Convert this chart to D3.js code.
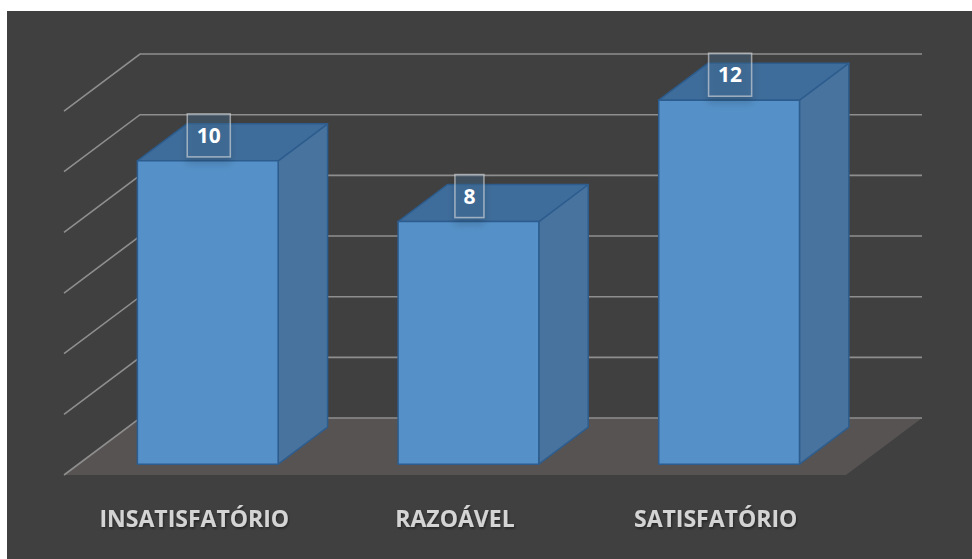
<!DOCTYPE html>
<html>
<head>
<meta charset="utf-8">
<script src="https://cdn.jsdelivr.net/npm/d3@7/dist/d3.min.js"></script>
<style>
html,body{margin:0;padding:0;background:#ffffff;}
svg{display:block;}
</style>
</head>
<body>
<svg id="chart" width="972" height="559"></svg>
<script>
// ---- data ----
const categories = ["INSATISFATÓRIO", "RAZOÁVEL", "SATISFATÓRIO"];
const values = [10, 8, 12];
const gridTicks = [0, 2, 4, 6, 8, 10, 12];

// ---- layout ----
const W = 972, H = 559;
const svg = d3.select("#chart");
const depthDX = 76, depthDY = 57;           // oblique depth offset of the whole floor
const zFront = 0.19, zBack = 0.84;           // bar depth range (0 = front, 1 = back wall)

const x = d3.scaleBand().domain(categories).range([64, 846]).paddingInner(0.46).paddingOuter(0.23);
const y = d3.scaleLinear().domain([0, 12]).range([475, 475 - 12 * 30.33]);

const P = (px, v, z) => [px + z * depthDX, y(v) - z * depthDY];
const poly = pts => "M" + pts.map(p => p.join(",")).join("L") + "Z";

// panel
svg.append("rect").attr("x", 7).attr("y", 11).attr("width", W - 7).attr("height", H - 11).attr("fill", "#404040");

const defs = svg.append("defs");
const f = defs.append("filter").attr("id", "shadow").attr("x", "-50%").attr("y", "-50%").attr("width", "200%").attr("height", "200%");
f.append("feGaussianBlur").attr("in", "SourceAlpha").attr("stdDeviation", 4).attr("result", "b");
f.append("feOffset").attr("in", "b").attr("dy", 6).attr("result", "o");
f.append("feComponentTransfer").attr("in", "o").attr("result", "s")
  .append("feFuncA").attr("type", "linear").attr("slope", 0.35);
const m = f.append("feMerge");
m.append("feMergeNode").attr("in", "s");
m.append("feMergeNode").attr("in", "SourceGraphic");

const tf = defs.append("filter").attr("id", "tshadow").attr("x", "-20%").attr("y", "-20%").attr("width", "140%").attr("height", "160%");
tf.append("feDropShadow").attr("dx", 1).attr("dy", 1.5).attr("stdDeviation", 1).attr("flood-color", "#000").attr("flood-opacity", 0.45);

// floor
const x0 = x.range()[0], x1 = x.range()[1];
svg.append("path")
  .attr("d", poly([P(x0, 0, 0), P(x1, 0, 0), P(x1, 0, 1), P(x0, 0, 1)]))
  .attr("fill", "#575352");

// gridlines: back wall + left wall
const grid = svg.append("g").attr("stroke", "#8e8e8e").attr("stroke-width", 1.6).attr("fill", "none");
gridTicks.forEach(v => {
  grid.append("path").attr("d", "M" + P(x0, v, 0).join(",") + "L" + P(x0, v, 1).join(",") + "L" + P(x1, v, 1).join(","));
});

// bars
const bars = svg.append("g");
categories.forEach((c, i) => {
  const v = values[i];
  const l = x(c) - 1, r = x(c) + x.bandwidth() - 1;
  const g = bars.append("g").attr("stroke", "#2d5d8e").attr("stroke-width", 1.5).attr("stroke-linejoin", "round");
  g.append("path").attr("d", poly([P(r, 0, zFront), P(r, 0, zBack), P(r, v, zBack), P(r, v, zFront)])).attr("fill", "#48739e");
  g.append("path").attr("d", poly([P(l, v, zFront), P(r, v, zFront), P(r, v, zBack), P(l, v, zBack)])).attr("fill", "#3f6d9b");
  g.append("path").attr("d", poly([P(l, 0, zFront), P(r, 0, zFront), P(r, v, zFront), P(l, v, zFront)])).attr("fill", "#5591c8");
});

// data labels
const lab = svg.append("g");
categories.forEach((c, i) => {
  const v = values[i];
  const cx = x(c) + x.bandwidth() / 2 + zFront * depthDX;
  const topY = y(v) - zFront * depthDY;
  const txt = String(v);
  const bw = txt.length === 1 ? 29 : 43, bh = 43;
  lab.append("rect")
    .attr("x", cx - bw / 2).attr("y", topY - 4 - bh).attr("width", bw).attr("height", bh)
    .attr("fill", "rgba(70,110,150,0.35)").attr("stroke", "rgba(220,220,220,0.6)").attr("stroke-width", 1.5)
    .attr("filter", "url(#shadow)");
  lab.append("text")
    .attr("x", cx).attr("y", topY - 4 - bh / 2 + 7.5)
    .attr("text-anchor", "middle")
    .attr("font-family", "'Open Sans', sans-serif").attr("font-weight", 700).attr("font-size", 21)
    .attr("fill", "#ffffff").text(txt);
});

// category labels
svg.append("g").selectAll("text").data(categories).join("text")
  .attr("x", d => x(d) + x.bandwidth() / 2)
  .attr("y", 527)
  .attr("text-anchor", "middle")
  .attr("font-family", "'Open Sans', sans-serif").attr("font-weight", 700).attr("font-size", 23)
  .attr("fill", "#d4d4d4")
  .attr("filter", "url(#tshadow)")
  .text(d => d);
</script>
</body>
</html>
